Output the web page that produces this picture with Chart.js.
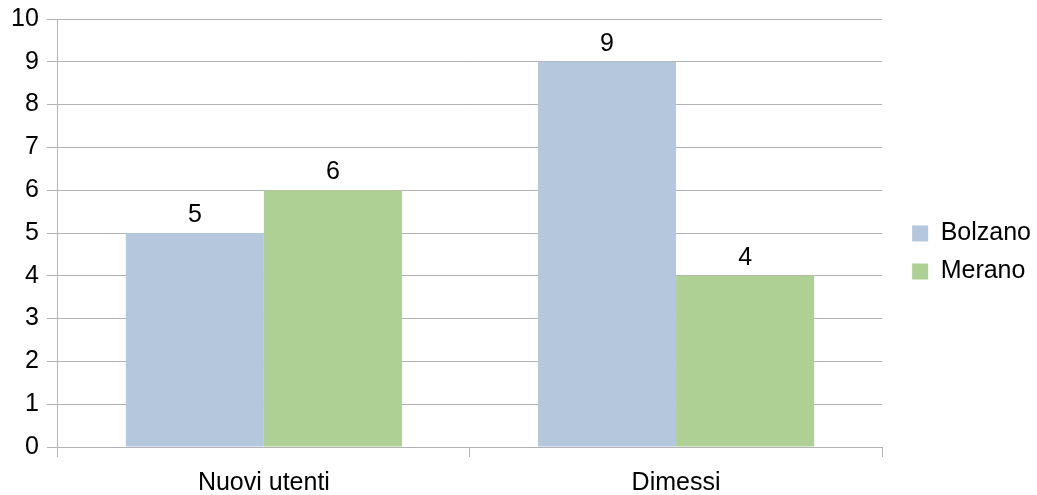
<!DOCTYPE html>
<html>
<head>
<meta charset="utf-8">
<script src="https://cdn.jsdelivr.net/npm/chart.js@4.4.0/dist/chart.umd.min.js"></script>
<style>
  html, body { margin: 0; padding: 0; background: #fff; }
  #wrap { width: 1037px; height: 495px; }
</style>
</head>
<body>
<div id="wrap"><canvas id="barChart"></canvas></div>
<script>
var categorie = ['Nuovi utenti', 'Dimessi'];
var bolzano = [5, 9];
var merano = [6, 4];

// etichette sopra le barre
var valoriPlugin = {
  id: 'valori',
  afterDatasetsDraw: function(chart) {
    var ctx = chart.ctx;
    ctx.save();
    ctx.font = '25px "Liberation Sans", Arial, sans-serif';
    ctx.fillStyle = '#000';
    ctx.textAlign = 'center';
    ctx.textBaseline = 'alphabetic';
    chart.data.datasets.forEach(function(ds, i) {
      chart.getDatasetMeta(i).data.forEach(function(bar, j) {
        ctx.fillText(ds.data[j], bar.x, bar.y - 11);
      });
    });
    ctx.restore();
  }
};

var barChartData = {
  labels  : categorie,
  datasets: [
    {
      label              : 'Bolzano',
      backgroundColor    : '#b4c7dc',
      data               : bolzano,
      categoryPercentage : 0.67,
      barPercentage      : 1.0
    },
    {
      label              : 'Merano',
      backgroundColor    : '#afd095',
      data               : merano,
      categoryPercentage : 0.67,
      barPercentage      : 1.0
    }
  ]
};

Chart.defaults.font.family = '"Liberation Sans", Arial, sans-serif';
Chart.defaults.color = '#000';

var barChart = new Chart(document.getElementById('barChart').getContext('2d'), {
  type: 'bar',
  data: barChartData,
  plugins: [valoriPlugin],
  options: {
    responsive: true,
    maintainAspectRatio: false,
    animation: false,
    layout: { padding: { top: 10, right: -4, left: 3, bottom: 0 } },
    plugins: {
      legend: {
        position: 'right',
        labels: {
          boxWidth: 16,
          boxHeight: 16,
          padding: 13,
          font: { size: 25 }
        }
      },
      tooltip: { enabled: false }
    },
    scales: {
      x: {
        grid: { color: '#b3b3b3', drawOnChartArea: false, tickLength: 10, offset: true },
        border: { color: '#b3b3b3' },
        ticks: { font: { size: 25 }, color: '#000', padding: 11 },
        afterFit: function(s) { s.height = 48; }
      },
      y: {
        min: 0,
        max: 10,
        ticks: { stepSize: 1, font: { size: 25, lineHeight: 0.88 }, color: '#000', padding: 8 },
        grid: { color: '#b3b3b3', tickLength: 11 },
        border: { color: '#b3b3b3' }
      },
      // spazio vuoto tra grafico e legenda
      spazio: {
        type: 'linear',
        position: 'right',
        grid: { display: false },
        border: { display: false },
        ticks: { display: false },
        afterFit: function(s) { s.width = 17; }
      }
    }
  }
});
</script>
</body>
</html>
